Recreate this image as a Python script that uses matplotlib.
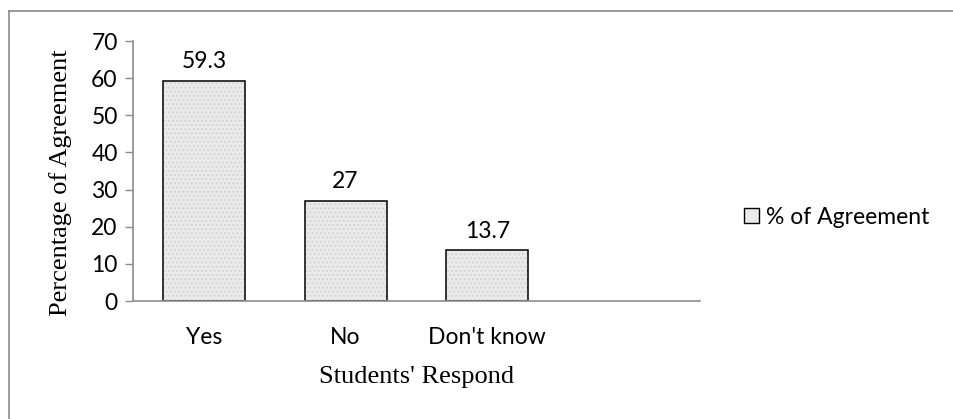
import matplotlib
matplotlib.use("Agg")
import matplotlib.pyplot as plt
from matplotlib.lines import Line2D
from matplotlib.patches import Patch

categories = ["Yes", "No", "Don't know"]
agreement = [59.3, 27, 13.7]
y_ticks = [0, 10, 20, 30, 40, 50, 60, 70]
series_name = "% of Agreement"

sans = ["Lato", "DejaVu Sans"]
serif = ["Liberation Serif", "DejaVu Serif"]
axis_grey = "#8c8c8c"
fs_sans = 16.5
fs_serif = 19

fig = plt.figure(figsize=(9.54, 4.19), dpi=100)
ax = fig.add_axes([133 / 954, 1 - 301 / 419, (700 - 133) / 954, (301 - 41) / 419])

x = list(range(len(categories)))
bars = ax.bar(x, agreement, width=0.58, color="#ebebeb", edgecolor="black",
              linewidth=1.1, hatch="....", label=series_name)
for b in bars:
    b._hatch_color = (0.83, 0.83, 0.83, 1.0)

for xi, v in zip(x, agreement):
    ax.annotate(f"{v:g}", (xi, v), xytext=(0, 6), textcoords="offset points",
                ha="center", va="bottom", fontsize=fs_sans, family=sans)

ax.set_xlim(-0.5, 3.5)
ax.set_ylim(0, 70)
ax.set_yticks(y_ticks)
ax.set_xticks(x)
ax.set_xticklabels(categories, family=sans, fontsize=fs_sans)
for lab in ax.get_yticklabels():
    lab.set_family(sans)
    lab.set_fontsize(fs_sans)

for side in ("top", "right"):
    ax.spines[side].set_visible(False)
for side in ("left", "bottom"):
    ax.spines[side].set_color(axis_grey)
    ax.spines[side].set_linewidth(1.2)

ax.tick_params(axis="y", direction="out", length=6, width=1.0, color=axis_grey, pad=5)
ax.tick_params(axis="x", length=0, pad=19)

ax.set_ylabel("Percentage of Agreement", family=serif, fontsize=fs_serif)
ax.yaxis.set_label_coords(-0.108, 0.455)
ax.set_xlabel("Students' Respond", family=serif, fontsize=fs_serif, labelpad=13)

leg = fig.legend(handles=[Patch(facecolor="#ebebeb", edgecolor="black", linewidth=1.0)],
                 labels=[series_name], loc="center left",
                 bbox_to_anchor=(733 / 954, 1 - 217 / 419), frameon=False,
                 prop={"family": sans, "size": fs_sans}, handlelength=0.65,
                 handleheight=0.65, handletextpad=0.3, borderpad=0)

# chart-area frame along the top and left edges
fig.add_artist(Line2D([9 / 954, 1.0], [1 - 11 / 419, 1 - 11 / 419],
                      transform=fig.transFigure, color="#8a8a8a", linewidth=1.2))
fig.add_artist(Line2D([9 / 954, 9 / 954], [0.0, 1 - 11 / 419],
                      transform=fig.transFigure, color="#8a8a8a", linewidth=1.2))

fig.savefig("out.png", dpi=100)
